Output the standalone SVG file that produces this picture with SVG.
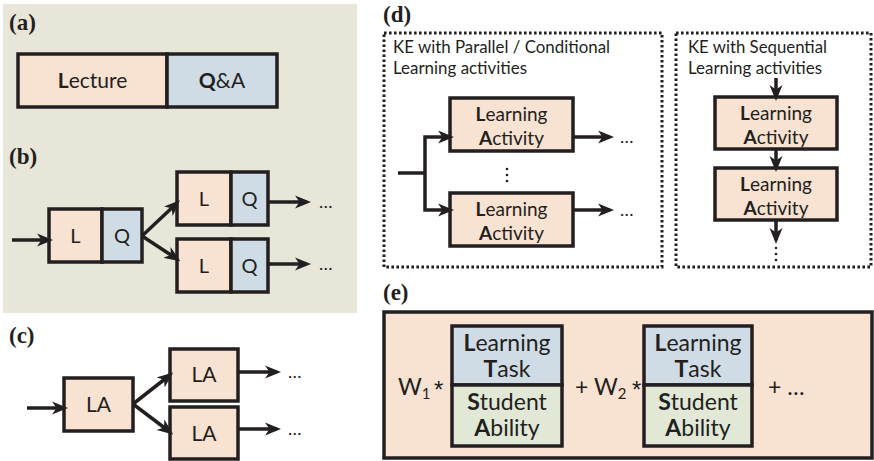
<svg xmlns="http://www.w3.org/2000/svg" width="874" height="461" viewBox="0 0 874 461">
<defs>
<style>
.bx{stroke:#231f20;stroke-width:3.5;stroke-linejoin:miter}
.pe{fill:#f8e2d1}.bl{fill:#cfdce6}.gr{fill:#e1e9d6}
.t{font-family:Lato,"Open Sans","Liberation Sans",sans-serif;fill:#231f20;text-anchor:middle}
.ts{font-family:Lato,"Open Sans","Liberation Sans",sans-serif;fill:#231f20}
.as{font-family:"Liberation Sans",Arial,sans-serif;fill:#231f20;font-size:24px}
.b{font-weight:bold}
.lab{font-family:"Liberation Serif",serif;font-weight:bold;font-size:23px;fill:#231f20}
.cn{stroke:#231f20;stroke-width:3.5;fill:none;marker-end:url(#ah)}
.ln{stroke:#231f20;stroke-width:3.5;fill:none}
.dt{fill:none;stroke:#231f20;stroke-width:3;stroke-dasharray:2.6 2.4}
</style>
<marker id="ah" markerUnits="userSpaceOnUse" markerWidth="16" markerHeight="14" refX="12" refY="7" orient="auto">
<path d="M0,0.5 L16,7 L0,13.5 L4.5,7 z" fill="#231f20"/>
</marker>
</defs>
<rect width="874" height="461" fill="#ffffff"/>
<rect x="3" y="4" width="354" height="309" fill="#e8e5d9"/>

<text class="lab" x="9" y="30">(a)</text>
<text class="lab" x="9" y="164">(b)</text>
<text class="lab" x="9" y="343">(c)</text>
<text class="lab" x="383" y="22">(d)</text>
<text class="lab" x="383" y="300">(e)</text>

<g id="a-lecture-qa">
<rect class="bx pe" x="18" y="54" width="149" height="53"/>
<rect class="bx bl" x="167" y="54" width="110" height="53"/>
<text class="t" x="92.5" y="88" font-size="21"><tspan class="b">L</tspan>ecture</text>
<text class="t" x="222" y="88" font-size="21"><tspan class="b">Q</tspan>&amp;A</text>
</g>

<g id="b-lq1">
<rect class="bx pe" x="49" y="209" width="53" height="53"/>
<rect class="bx bl" x="102" y="209" width="40" height="53"/>
<text class="t" x="75.5" y="243" font-size="20">L</text>
<text class="t" x="122" y="243" font-size="20">Q</text>
</g>
<g id="b-lq2">
<rect class="bx pe" x="177" y="172" width="54" height="53"/>
<rect class="bx bl" x="231" y="172" width="37" height="53"/>
<text class="t" x="204" y="206" font-size="20">L</text>
<text class="t" x="249.5" y="206" font-size="20">Q</text>
</g>
<g id="b-lq3">
<rect class="bx pe" x="177" y="239" width="54" height="53"/>
<rect class="bx bl" x="231" y="239" width="37" height="53"/>
<text class="t" x="204" y="273" font-size="20">L</text>
<text class="t" x="249.5" y="273" font-size="20">Q</text>
</g>

<g id="c-la1">
<rect class="bx pe" x="64" y="378" width="69" height="53"/>
<text class="t" x="98.5" y="412" font-size="21">LA</text>
</g>
<g id="c-la2">
<rect class="bx pe" x="170" y="349" width="68" height="52"/>
<text class="t" x="204" y="382" font-size="21">LA</text>
</g>
<g id="c-la3">
<rect class="bx pe" x="170" y="407" width="68" height="52"/>
<text class="t" x="204" y="441" font-size="21">LA</text>
</g>

<g id="d-parallel">
<rect class="dt" x="384" y="33" width="278" height="234"/>
<text class="ts" x="393" y="53" font-size="17" textLength="217" lengthAdjust="spacingAndGlyphs">KE with Parallel / Conditional</text>
<text class="ts" x="393" y="74" font-size="17" textLength="134" lengthAdjust="spacingAndGlyphs">Learning activities</text>
</g>
<g id="d-la1">
<rect class="bx pe" x="450" y="98" width="123" height="53"/>
<text class="t" x="511.5" y="121" font-size="19"><tspan class="b">L</tspan>earning</text>
<text class="t" x="511.5" y="145" font-size="19"><tspan class="b">A</tspan>ctivity</text>
</g>
<g id="d-la2">
<rect class="bx pe" x="450" y="193" width="123" height="53"/>
<text class="t" x="511.5" y="216" font-size="19"><tspan class="b">L</tspan>earning</text>
<text class="t" x="511.5" y="240" font-size="19"><tspan class="b">A</tspan>ctivity</text>
</g>
<g id="d-sequential">
<rect class="dt" x="676" y="33" width="195" height="234"/>
<text class="ts" x="688" y="53" font-size="17" textLength="139" lengthAdjust="spacingAndGlyphs">KE with Sequential</text>
<text class="ts" x="688" y="74" font-size="17" textLength="134" lengthAdjust="spacingAndGlyphs">Learning activities</text>
</g>
<g id="d-la3">
<rect class="bx pe" x="715" y="97" width="122" height="52"/>
<text class="t" x="776" y="120" font-size="19"><tspan class="b">L</tspan>earning</text>
<text class="t" x="776" y="144" font-size="19"><tspan class="b">A</tspan>ctivity</text>
</g>
<g id="d-la4">
<rect class="bx pe" x="715" y="168" width="122" height="52"/>
<text class="t" x="776" y="191" font-size="19"><tspan class="b">L</tspan>earning</text>
<text class="t" x="776" y="215" font-size="19"><tspan class="b">A</tspan>ctivity</text>
</g>

<g id="e-formula">
<rect class="bx pe" x="384" y="312" width="488" height="146"/>
<text class="ts" x="398" y="395" font-size="23">W<tspan font-size="15" dy="4">1</tspan></text>
<text class="as" x="434" y="398">*</text>
<text class="ts" x="575" y="395" font-size="23">+ W<tspan font-size="15" dy="4">2</tspan></text>
<text class="as" x="632" y="398">*</text>
<text class="ts" x="768" y="395" font-size="23">+ …</text>
</g>
<g id="e-term1">
<rect class="bx bl" x="452" y="326" width="110" height="59"/>
<rect class="bx gr" x="452" y="385" width="110" height="61"/>
<text class="t" x="507" y="351" font-size="23"><tspan class="b">L</tspan>earning</text>
<text class="t" x="507" y="377" font-size="23"><tspan class="b">T</tspan>ask</text>
<text class="t" x="507" y="410" font-size="23"><tspan class="b">S</tspan>tudent</text>
<text class="t" x="507" y="436" font-size="23"><tspan class="b">A</tspan>bility</text>
</g>
<g id="e-term2">
<rect class="bx bl" x="644" y="326" width="108" height="59"/>
<rect class="bx gr" x="644" y="385" width="108" height="61"/>
<text class="t" x="698" y="351" font-size="23"><tspan class="b">L</tspan>earning</text>
<text class="t" x="698" y="377" font-size="23"><tspan class="b">T</tspan>ask</text>
<text class="t" x="698" y="410" font-size="23"><tspan class="b">S</tspan>tudent</text>
<text class="t" x="698" y="436" font-size="23"><tspan class="b">A</tspan>bility</text>
</g>

<g id="connectors">
<line class="cn" x1="12" y1="240" x2="49" y2="240"/>
<line class="cn" x1="142" y1="236" x2="177" y2="203"/>
<line class="cn" x1="142" y1="236" x2="177" y2="259"/>
<line class="cn" x1="268" y1="202" x2="307" y2="202"/>
<line class="cn" x1="268" y1="264" x2="307" y2="264"/>
<line class="cn" x1="27" y1="408" x2="64" y2="408"/>
<line class="cn" x1="133" y1="404" x2="170" y2="375"/>
<line class="cn" x1="133" y1="404" x2="170" y2="432"/>
<line class="cn" x1="238" y1="372" x2="277" y2="372"/>
<line class="cn" x1="238" y1="429" x2="277" y2="429"/>
<line class="ln" x1="398" y1="173" x2="425" y2="173"/>
<polyline class="cn" points="425,173 425,137 450,137"/>
<polyline class="cn" points="425,173 425,210 450,210"/>
<line class="cn" x1="573" y1="137" x2="610" y2="137"/>
<line class="cn" x1="573" y1="210" x2="610" y2="210"/>
<line class="cn" x1="776" y1="78" x2="776" y2="97"/>
<line class="cn" x1="776" y1="149" x2="776" y2="168"/>
<line class="cn" x1="776" y1="220" x2="776" y2="240"/>
</g>

<g id="ellipses" fill="#231f20">
<text class="ts" x="319" y="208" font-size="18">…</text>
<text class="ts" x="319" y="270" font-size="18">…</text>
<text class="ts" x="288" y="378" font-size="18">…</text>
<text class="ts" x="288" y="435" font-size="18">…</text>
<text class="ts" x="620" y="143" font-size="18">…</text>
<text class="ts" x="620" y="216" font-size="18">…</text>
<circle cx="507" cy="169" r="1.3"/><circle cx="507" cy="175" r="1.3"/><circle cx="507" cy="181" r="1.3"/>
<circle cx="776" cy="248" r="1.3"/><circle cx="776" cy="254" r="1.3"/><circle cx="776" cy="260" r="1.3"/>
</g>
</svg>
